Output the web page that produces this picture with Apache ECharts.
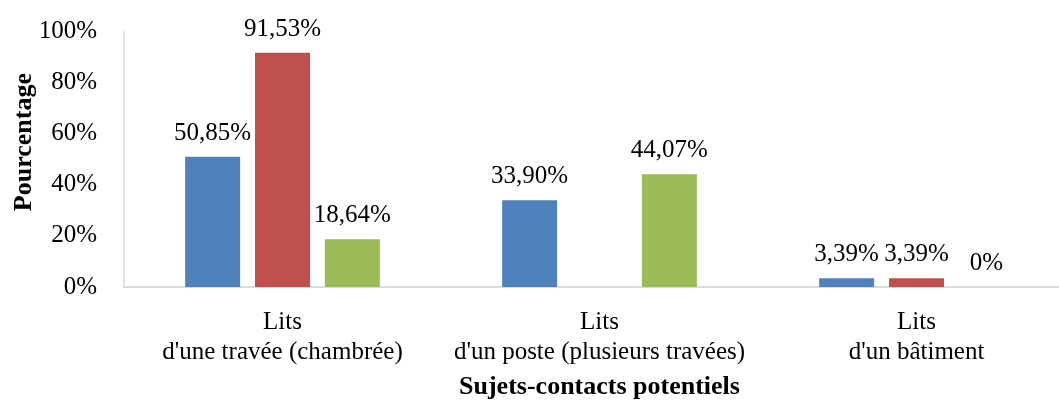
<!DOCTYPE html>
<html>
<head>
<meta charset="utf-8">
<script src="https://cdn.jsdelivr.net/npm/echarts@6/dist/echarts.min.js"></script>
<style>
  html, body { margin: 0; padding: 0; background: #fff; }
  #chart { width: 1059px; height: 401px; }
</style>
</head>
<body>
<div id="chart"></div>
<script>
// categories and values (percent)
var categories = ["Lits\nd'une travée (chambrée)", "Lits\nd'un poste (plusieurs travées)", "Lits\nd'un bâtiment"];
var seriesBlue = [50.85, 33.90, 3.39];
var seriesRed = [91.53, null, 3.39];
var seriesGreen = [18.64, 44.07, 0];
var yTicks = [0, 20, 40, 60, 80, 100];

var font = "'Liberation Serif', 'Times New Roman', serif";

function fmt(v) {
    if (v === 0) return "0%";
    return v.toFixed(2).replace(".", ",") + "%";
}

function makeSeries(name, data, color) {
    return {
        name: name,
        type: "bar",
        data: data,
        barWidth: 55,
        barGap: "27%",
        itemStyle: { color: color },
        label: {
            show: true,
            position: "top",
            distance: 11,
            fontFamily: font,
            fontSize: 25,
            color: "#000",
            formatter: function (p) { return fmt(p.value); }
        }
    };
}

var myChart = echarts.init(document.getElementById("chart"));
var option = {
    animation: false,
    grid: { left: 124, top: 31, right: -16, bottom: 114, outerBoundsMode: "none", containLabel: false },
    xAxis: {
        type: "category",
        data: categories,
        name: "Sujets-contacts potentiels",
        nameLocation: "middle",
        nameGap: 87,
        nameTextStyle: { fontFamily: font, fontSize: 26, fontWeight: "bold", color: "#000" },
        axisLine: { lineStyle: { color: "#d0d0d0", width: 1.5 } },
        axisTick: { show: false },
        axisLabel: { interval: 0, fontFamily: font, fontSize: 25, color: "#000", lineHeight: 30, margin: 20 }
    },
    yAxis: {
        type: "value",
        min: yTicks[0],
        max: yTicks[yTicks.length - 1],
        interval: 20,
        axisLine: { show: true, lineStyle: { color: "#d9d9d9", width: 1.5 } },
        axisTick: { show: false },
        splitLine: { show: false },
        axisLabel: {
            fontFamily: font, fontSize: 25, color: "#000", margin: 27,
            formatter: function (v) { return v + "%"; }
        }
    },
    graphic: [{
        type: "text",
        left: 11,
        top: 73,
        rotation: Math.PI / 2,
        style: { text: "Pourcentage", font: "bold 26px " + font, fill: "#000" }
    }],
    series: [
        makeSeries("a", seriesBlue, "#4F81BD"),
        makeSeries("b", seriesRed, "#C0504D"),
        makeSeries("c", seriesGreen, "#9BBB59")
    ]
};
myChart.setOption(option);
window.addEventListener("resize", function () {
    myChart.resize();
});
</script>
</body>
</html>
